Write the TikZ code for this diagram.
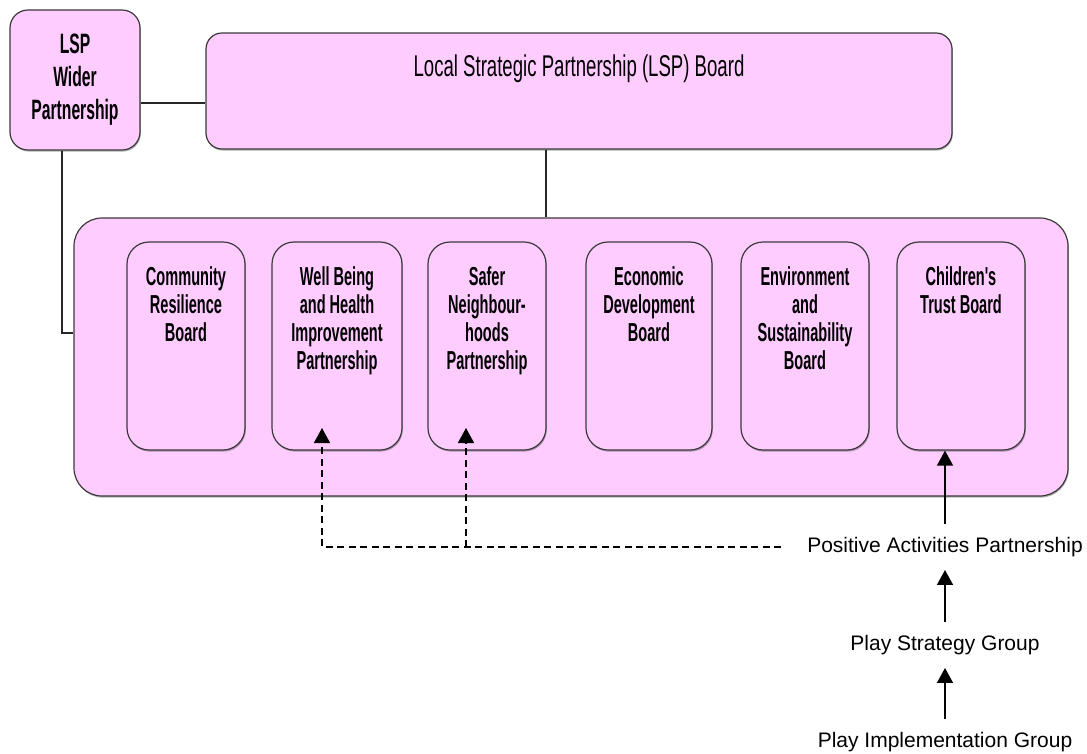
\documentclass[tikz,border=0pt]{standalone}
\usepackage{fontspec}
\setmainfont{Liberation Sans}
\newfontfamily\narrowfont[FakeStretch=0.56]{Liberation Sans}
\newfontfamily\titlefont[FakeStretch=0.62]{Liberation Sans}
\usepackage{tikz}
\usetikzlibrary{arrows.meta,shadows}
\definecolor{lspPink}{HTML}{FFCCFF}
\definecolor{lspLine}{HTML}{3A3A3A}
\newcommand{\toptxt}[3]{\parbox[c][#1][t]{#2}{\centering\rule{0pt}{43pt}#3}}
\tikzset{panel/.style={rectangle,rounded corners=#1,draw=lspLine,line width=1.2pt,fill=lspPink,inner sep=0pt,
            drop shadow={shadow xshift=0.8pt,shadow yshift=-1.6pt,opacity=0.3,fill=black}},
         panel/.default=20pt,
         sub/.style={panel=22pt,minimum height=208pt,font=\narrowfont\bfseries\fontsize{26}{28}\selectfont},
         grp/.style={font=\fontsize{21}{25}\selectfont,inner xsep=26pt,inner ysep=13pt},
         conn/.style={draw=black!85,line width=1.5pt},
         arr/.style={draw=black,line width=1.6pt,-{Triangle[length=15pt,width=16pt]}}}

\begin{document}
\begin{tikzpicture}[x=1pt,y=-1pt]
        \useasboundingbox (0,0) rectangle (1087,753);

        \node[panel=18pt,minimum width=130pt,minimum height=140pt,font=\narrowfont\bfseries\fontsize{28}{33}\selectfont] (lsp) at (75,80) {\toptxt{140pt}{124pt}{LSP\\Wider\\Partnership}};
        \node[panel=16pt,minimum width=746pt,minimum height=116pt,font=\titlefont\fontsize{30}{32}\selectfont] (board) at (579,91) {\toptxt{116pt}{720pt}{Local Strategic Partnership (LSP) Board}};
        \node[panel=28pt,minimum width=994pt,minimum height=278pt] (hub) at (571,357) {};

        \node[sub,minimum width=118pt] (cr) at (186,346) {\toptxt{208pt}{112pt}{Community\\Resilience\\Board}};
        \node[sub,minimum width=130pt] (wb) at (337,346) {\toptxt{208pt}{124pt}{Well Being\\and Health\\Improvement\\Partnership}};
        \node[sub,minimum width=118pt] (sn) at (487,346) {\toptxt{208pt}{112pt}{Safer\\Neighbour-\\hoods\\Partnership}};
        \node[sub,minimum width=126pt] (ed) at (649,346) {\toptxt{208pt}{120pt}{Economic\\Development\\Board}};
        \node[sub,minimum width=128pt] (es) at (805,346) {\toptxt{208pt}{122pt}{Environment\\and\\Sustainability\\Board}};
        \node[sub,minimum width=128pt] (ct) at (961,346) {\toptxt{208pt}{122pt}{Children's\\Trust Board}};

        \node[grp] (pap) at (945,547) {Positive Activities Partnership};
        \node[grp] (psg) at (945,645) {Play Strategy Group};
        \node[grp] (pig) at (945,742) {Play Implementation Group};

        \coordinate (lspc) at ([yshift=-23pt]lsp.east);
        \coordinate (bc) at ([xshift=-33pt]board.south);
        \coordinate (lw) at ([xshift=-13pt]lsp.south);
        \coordinate (hw) at ([yshift=24pt]hub.west);
        \coordinate (wbin) at (322,428);
        \coordinate (snin) at (466,428);

        \draw[conn] (lspc) -- (lspc -| board.west);
        \draw[conn] (bc) -- (bc |- hub.north);
        \draw[conn] (lw) |- (hw);

        \draw[arr] (pap) -- (pap |- ct.south);
        \draw[arr] (psg) -- (pap);
        \draw[arr] (pig) -- (psg);
        \draw[arr,dash pattern=on 7pt off 4.5pt] (pap.west) -| (wbin);
        \draw[arr,dash pattern=on 7pt off 4.5pt] (snin |- pap.west) -- (snin);
\end{tikzpicture}
\end{document}
